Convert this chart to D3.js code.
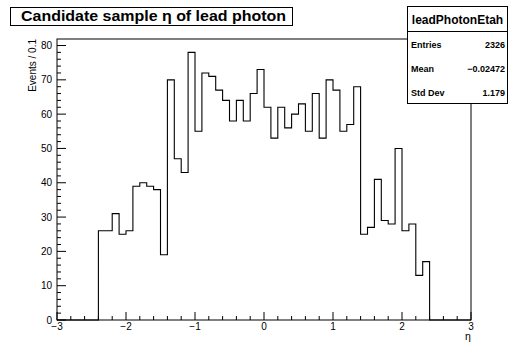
<!DOCTYPE html>
<html>
<head>
<meta charset="utf-8">
<script src="https://cdn.jsdelivr.net/npm/d3@7"></script>
<style>
  body { margin: 0; background: #fff; }
  svg { display: block; font-family: "Liberation Sans", Arial, sans-serif; }
</style>
</head>
<body>
<div id="chart"></div>
<script>
// histogram: 60 bins of 0.1 from -3 to 3
const binLow = -3, binWidth = 0.1;
const counts = [
  0, 0, 0, 0, 0, 0,
  26, 26, 31, 25, 26, 39, 40, 39, 38, 19,
  70, 47, 43, 78, 55, 72, 71, 67, 64,
  58, 64, 58, 66, 73,
  62, 53, 62, 56, 60,
  63, 55, 66, 53, 70,
  67, 55, 57, 68,
  25, 27, 41, 29, 28, 50, 26, 28, 13, 17,
  0, 0, 0, 0, 0, 0
];
const xTicks = [-3, -2, -1, 0, 1, 2, 3];
const yTicks = [0, 10, 20, 30, 40, 50, 60, 70, 80];
const statNames = ["Entries", "Mean", "Std Dev"];
const statValues = ["2326", "\u22120.02472", "1.179"];

const W = 508, H = 345;
const frame = {left: 57, right: 471, top: 39, bottom: 320};

const svg = d3.select("#chart").append("svg")
  .attr("width", W).attr("height", H);

const x = d3.scaleLinear().domain([-3, 3]).range([frame.left, frame.right]);
const y = d3.scaleLinear().domain([0, 81.9]).range([frame.bottom, frame.top]);

// frame
svg.append("rect")
  .attr("x", frame.left).attr("y", frame.top)
  .attr("width", frame.right - frame.left).attr("height", frame.bottom - frame.top)
  .attr("fill", "none").attr("stroke", "#000").attr("stroke-width", 1);

// histogram outline as a step path
let pts = [];
counts.forEach((c, i) => {
  const x0 = binLow + i * binWidth, x1 = x0 + binWidth;
  pts.push([x(x0), y(c)], [x(x1), y(c)]);
});
const line = d3.line();
svg.append("path")
  .attr("d", line(pts))
  .attr("fill", "none").attr("stroke", "#000").attr("stroke-width", 1.1);

// x axis ticks
const xMinor = d3.range(-3, 3.0001, 0.2);
svg.append("g").selectAll("line").data(xMinor).join("line")
  .attr("x1", d => x(d)).attr("x2", d => x(d))
  .attr("y1", frame.bottom)
  .attr("y2", d => frame.bottom - (Math.abs(d - Math.round(d)) < 1e-6 ? 8 : 4))
  .attr("stroke", "#000");
svg.append("g").selectAll("text").data(xTicks).join("text")
  .attr("x", d => x(d)).attr("y", 330)
  .attr("text-anchor", "middle").attr("font-size", 10)
  .text(d => d < 0 ? "\u2212" + Math.abs(d) : d);

// y axis ticks
const yMinor = d3.range(0, 81, 2);
svg.append("g").selectAll("line").data(yMinor).join("line")
  .attr("x1", frame.left)
  .attr("x2", d => frame.left + (d % 10 === 0 ? 9 : 4))
  .attr("y1", d => y(d)).attr("y2", d => y(d))
  .attr("stroke", "#000");
svg.append("g").selectAll("text").data(yTicks).join("text")
  .attr("x", 52).attr("y", d => y(d) + 3.6)
  .attr("text-anchor", "end").attr("font-size", 10)
  .text(d => d);

// axis titles
svg.append("text")
  .attr("transform", `translate(36,${frame.top}) rotate(-90)`)
  .attr("text-anchor", "end").attr("font-size", 10)
  .text("Events / 0.1");
svg.append("text")
  .attr("x", 468).attr("y", 340)
  .attr("text-anchor", "middle").attr("font-size", 10.5)
  .text("\u03b7");

// title box
svg.append("rect")
  .attr("x", 10.5).attr("y", 7.5).attr("width", 282).attr("height", 18)
  .attr("fill", "#fff").attr("stroke", "#000");
svg.append("text")
  .attr("x", 21).attr("y", 21)
  .attr("font-size", 15).attr("font-weight", "bold")
  .attr("textLength", 265).attr("lengthAdjust", "spacingAndGlyphs")
  .text("Candidate sample \u03b7 of lead photon");

// stats box
const sb = {x: 407.5, y: 6.5, w: 100, h: 97};
svg.append("rect")
  .attr("x", sb.x).attr("y", sb.y).attr("width", sb.w).attr("height", sb.h)
  .attr("fill", "#fff").attr("stroke", "#000");
svg.append("line")
  .attr("x1", sb.x).attr("x2", sb.x + sb.w)
  .attr("y1", 31.5).attr("y2", 31.5).attr("stroke", "#000");
svg.append("text")
  .attr("x", sb.x + sb.w / 2).attr("y", 24)
  .attr("text-anchor", "middle").attr("font-size", 12).attr("font-weight", "bold")
  .text("leadPhotonEtah");
const rowY = [47.5, 71.5, 95.5];
svg.append("g").selectAll("text").data(statNames).join("text")
  .attr("x", 411).attr("y", (d, i) => rowY[i])
  .attr("font-size", 9).attr("font-weight", "bold")
  .text(d => d);
svg.append("g").selectAll("text").data(statValues).join("text")
  .attr("x", 505).attr("y", (d, i) => rowY[i])
  .attr("text-anchor", "end").attr("font-size", 9).attr("font-weight", "bold")
  .text(d => d);
</script>
</body>
</html>
